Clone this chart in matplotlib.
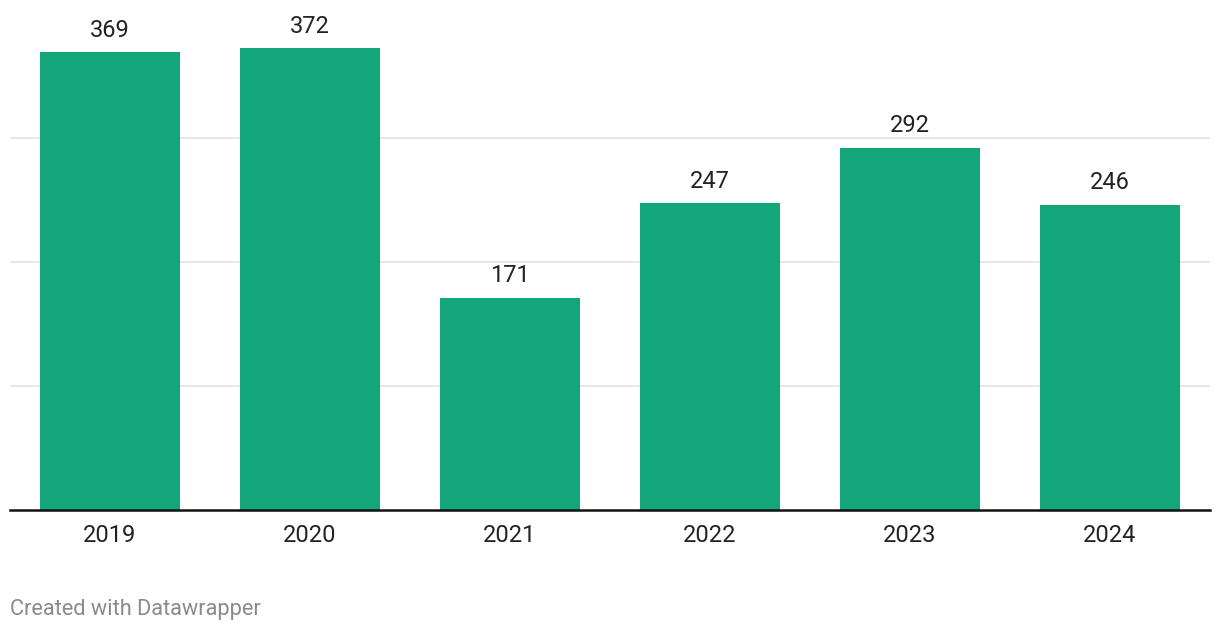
import matplotlib
matplotlib.use('Agg')
import matplotlib.pyplot as plt
import numpy as np

years = ['2019', '2020', '2021', '2022', '2023', '2024']
counts = [369, 372, 171, 247, 292, 246]

GREEN = '#14a67b'

plt.rcParams.update({
    'font.family': ['Roboto', 'DejaVu Sans'],
    'figure.facecolor': 'white',
})

fig = plt.figure(figsize=(12.2, 6.3), dpi=100)
ax = fig.add_axes([10 / 1220, 120 / 630, 1200 / 1220, 490 / 630])

x = np.arange(len(years))
bars = ax.bar(x, counts, width=0.7, color=GREEN, zorder=2)

ax.set_xlim(-0.5, len(years) - 0.5)
ax.set_ylim(0, 394.8)
ax.set_yticks([100, 200, 300])
ax.yaxis.grid(True, color='#e3e3e3', linewidth=1.2, zorder=0)
ax.tick_params(axis='y', length=0, labelleft=False)
ax.set_xticks(x)
ax.set_xticklabels(years, fontsize=17, color='#222222')
ax.tick_params(axis='x', length=0, pad=10)

for s in ['top', 'right', 'left']:
    ax.spines[s].set_visible(False)
ax.spines['bottom'].set_color('#111111')
ax.spines['bottom'].set_linewidth(1.8)
ax.spines['bottom'].set_zorder(3)

for xi, v in zip(x, counts):
    ax.annotate(str(v), (xi, v), xytext=(0, 11), textcoords='offset points',
                ha='center', va='baseline', fontsize=17, color='#222222')

fig.text(10 / 1220, 1 - 609 / 630, 'Created with Datawrapper', fontsize=15.7,
         color='#8a8a8a', ha='left', va='center')

fig.savefig('out.png', dpi=100)
plt.close(fig)
